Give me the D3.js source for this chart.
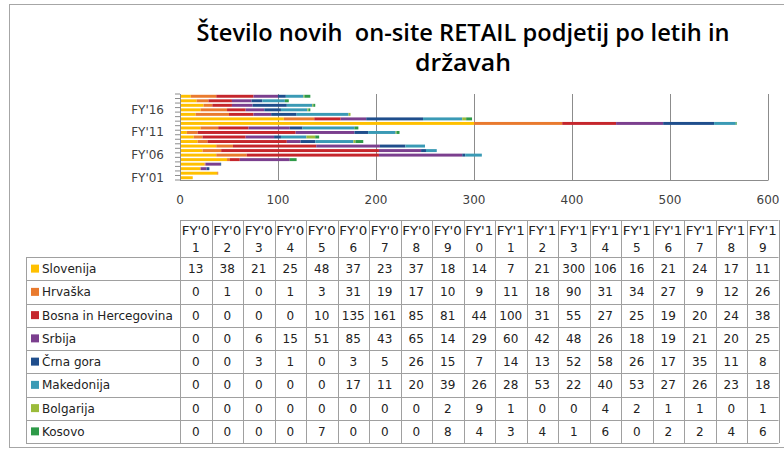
<!DOCTYPE html>
<html>
<head>
<meta charset="utf-8">
<script src="https://cdn.jsdelivr.net/npm/d3@7/dist/d3.min.js"></script>
<style>
  body { margin: 0; background: #fff; }
  svg { display: block; }
</style>
</head>
<body>
<svg id="chart" width="784" height="452"></svg>
<script>
// years and countries
var years = ["FY'01","FY'02","FY'03","FY'04","FY'05","FY'06","FY'07","FY'08","FY'09","FY'10",
             "FY'11","FY'12","FY'13","FY'14","FY'15","FY'16","FY'17","FY'18","FY'19"]
var countries = ["Slovenija","Hrvaška","Bosna in Hercegovina","Srbija","Črna gora","Makedonija","Bolgarija","Kosovo"]
var colours = ["#FFC000","#E97A2E","#C5262C","#7B3F8E","#1F4E8C","#3A9AB5","#9BBB3A","#2E9A48"]

var slovenija  = [13,38,21,25,48,37,23,37,18,14,7,21,300,106,16,21,24,17,11]
var hrvaska    = [0,1,0,1,3,31,19,17,10,9,11,18,90,31,34,27,9,12,26]
var bosna      = [0,0,0,0,10,135,161,85,81,44,100,31,55,27,25,19,20,24,38]
var srbija     = [0,0,6,15,51,85,43,65,14,29,60,42,48,26,18,19,21,20,25]
var crnaGora   = [0,0,3,1,0,3,5,26,15,7,14,13,52,58,26,17,35,11,8]
var makedonija = [0,0,0,0,0,17,11,20,39,26,28,53,22,40,53,27,26,23,18]
var bolgarija  = [0,0,0,0,0,0,0,0,2,9,1,0,0,4,2,1,1,0,1]
var kosovo     = [0,0,0,0,7,0,0,0,8,4,3,4,1,6,0,2,2,4,6]

var series = [slovenija,hrvaska,bosna,srbija,crnaGora,makedonija,bolgarija,kosovo]
var axisLabels = ["FY'01","FY'06","FY'11","FY'16"]
var xTicks = [0,100,200,300,400,500,600]

var svg = d3.select('#chart')
var grey = '#8c8c8c'

// outer frame
svg.append('rect')
    .attr('x', 9.5).attr('y', 4.5)
    .attr('width', 800).attr('height', 443)
    .attr('fill', 'none').attr('stroke', '#a6a6a6')

// title
var title = svg.append('text')
    .attr('text-anchor', 'middle')
    .style('font-family', 'Open Sans, sans-serif')
    .style('font-weight', '600')
    .style('font-size', '23px')
    .style('white-space', 'pre')
    .attr('fill', '#000')
title.append('tspan').attr('x', 463).attr('y', 41)
    .attr('textLength', 533).attr('lengthAdjust', 'spacingAndGlyphs')
    .text('Število novih\u00a0 on-site RETAIL podjetij po letih in')
title.append('tspan').attr('x', 463).attr('y', 71)
    .attr('textLength', 96).attr('lengthAdjust', 'spacingAndGlyphs')
    .text('državah')

// plot area
var pLeft = 180, pRight = 768, pTop = 94, pBottom = 180

var x = d3.scaleLinear().domain([0, 600]).range([pLeft, pRight])
var y = d3.scaleBand().domain(years.slice().reverse()).range([pTop, pBottom]).paddingInner(0.35).paddingOuter(0.175)

// gridlines
svg.append('g').selectAll('line')
    .data(xTicks.slice(1))
    .join('line')
    .attr('x1', function(d) { return Math.round(x(d)) + 0.5 })
    .attr('x2', function(d) { return Math.round(x(d)) + 0.5 })
    .attr('y1', pTop).attr('y2', pBottom)
    .attr('stroke', grey)

// stacked bars
var rows = years.map(function(yr, i) {
    var r = { year: yr }
    countries.forEach(function(c, j) { r[c] = series[j][i] })
    return r
})
var stack = d3.stack().keys(countries)(rows)

svg.append('g').selectAll('g')
    .data(stack)
    .join('g')
    .attr('fill', function(d, i) { return colours[i] })
    .selectAll('rect')
    .data(function(d) { return d })
    .join('rect')
    .attr('x', function(d) { return x(d[0]) })
    .attr('width', function(d) { return x(d[1]) - x(d[0]) })
    .attr('y', function(d) { return y(d.data.year) })
    .attr('height', y.bandwidth())

// axes lines
svg.append('line')
    .attr('x1', pLeft).attr('x2', pRight + 0.5)
    .attr('y1', pBottom + 0.5).attr('y2', pBottom + 0.5)
    .attr('stroke', grey)
svg.append('line')
    .attr('x1', pLeft + 0.5).attr('x2', pLeft + 0.5)
    .attr('y1', pTop).attr('y2', pBottom)
    .attr('stroke', grey)

// y ticks at category boundaries
var step = (pBottom - pTop) / years.length
svg.append('g').selectAll('line')
    .data(d3.range(years.length + 1))
    .join('line')
    .attr('x1', pLeft - 5).attr('x2', pLeft)
    .attr('y1', function(d) { return pTop + d * step })
    .attr('y2', function(d) { return pTop + d * step })
    .attr('stroke', grey)

// y labels
svg.append('g').selectAll('text')
    .data(axisLabels)
    .join('text')
    .attr('x', 164)
    .attr('y', function(d) { return y(d) + y.bandwidth() / 2 + 4 })
    .attr('text-anchor', 'end')
    .style('font-family', 'DejaVu Sans, sans-serif')
    .style('font-size', '12px')
    .attr('fill', '#404040')
    .text(function(d) { return d })

// x labels
svg.append('g').selectAll('text')
    .data(xTicks)
    .join('text')
    .attr('x', function(d) { return x(d) })
    .attr('y', 204)
    .attr('text-anchor', 'middle')
    .style('font-family', 'DejaVu Sans, sans-serif')
    .style('font-size', '12px')
    .attr('fill', '#404040')
    .text(function(d) { return d })

// data table
var tLeft = 180, colW = 31.5, headTop = 220, rowTop = 257, rowH = 23.25, legLeft = 26
var tBottom = rowTop + rowH * countries.length
var tRight = tLeft + colW * years.length
var tableLine = '#a0a0a0'
var tbl = svg.append('g').style('font-family', 'DejaVu Sans, sans-serif').style('font-size', '12px').attr('fill', '#222')

// horizontal lines
tbl.append('line').attr('x1', tLeft).attr('x2', tRight).attr('y1', headTop + 0.5).attr('y2', headTop + 0.5).attr('stroke', tableLine)
tbl.selectAll('.hl')
    .data(d3.range(countries.length + 1))
    .join('line')
    .attr('x1', legLeft).attr('x2', tRight)
    .attr('y1', function(d) { return Math.round(rowTop + d * rowH) + 0.5 })
    .attr('y2', function(d) { return Math.round(rowTop + d * rowH) + 0.5 })
    .attr('stroke', tableLine)

// vertical lines
tbl.selectAll('.vl')
    .data(d3.range(years.length + 1))
    .join('line')
    .attr('x1', function(d) { return Math.round(tLeft + d * colW) + 0.5 })
    .attr('x2', function(d) { return Math.round(tLeft + d * colW) + 0.5 })
    .attr('y1', headTop).attr('y2', tBottom)
    .attr('stroke', tableLine)
tbl.append('line').attr('x1', legLeft + 0.5).attr('x2', legLeft + 0.5).attr('y1', rowTop).attr('y2', tBottom).attr('stroke', tableLine)

// header
years.forEach(function(yr, i) {
    var cx = tLeft + (i + 0.5) * colW
    tbl.append('text').attr('x', cx).attr('y', headTop + 15).attr('text-anchor', 'middle')
        .attr('textLength', 28).attr('lengthAdjust', 'spacingAndGlyphs').text(yr.slice(0, 4))
    tbl.append('text').attr('x', cx).attr('y', headTop + 32).attr('text-anchor', 'middle').text(yr.slice(4))
})

// rows
countries.forEach(function(c, j) {
    var cy = rowTop + (j + 0.5) * rowH
    tbl.append('rect').attr('x', 31).attr('y', cy - 4).attr('width', 8).attr('height', 8).attr('fill', colours[j])
    tbl.append('text').attr('x', 42).attr('y', cy + 4.5).text(c)
    tbl.selectAll('.v' + j)
        .data(series[j])
        .join('text')
        .attr('x', function(d, i) { return tLeft + (i + 0.5) * colW })
        .attr('y', cy + 4.5)
        .attr('text-anchor', 'middle')
        .text(function(d) { return d })
})
</script>
</body>
</html>
